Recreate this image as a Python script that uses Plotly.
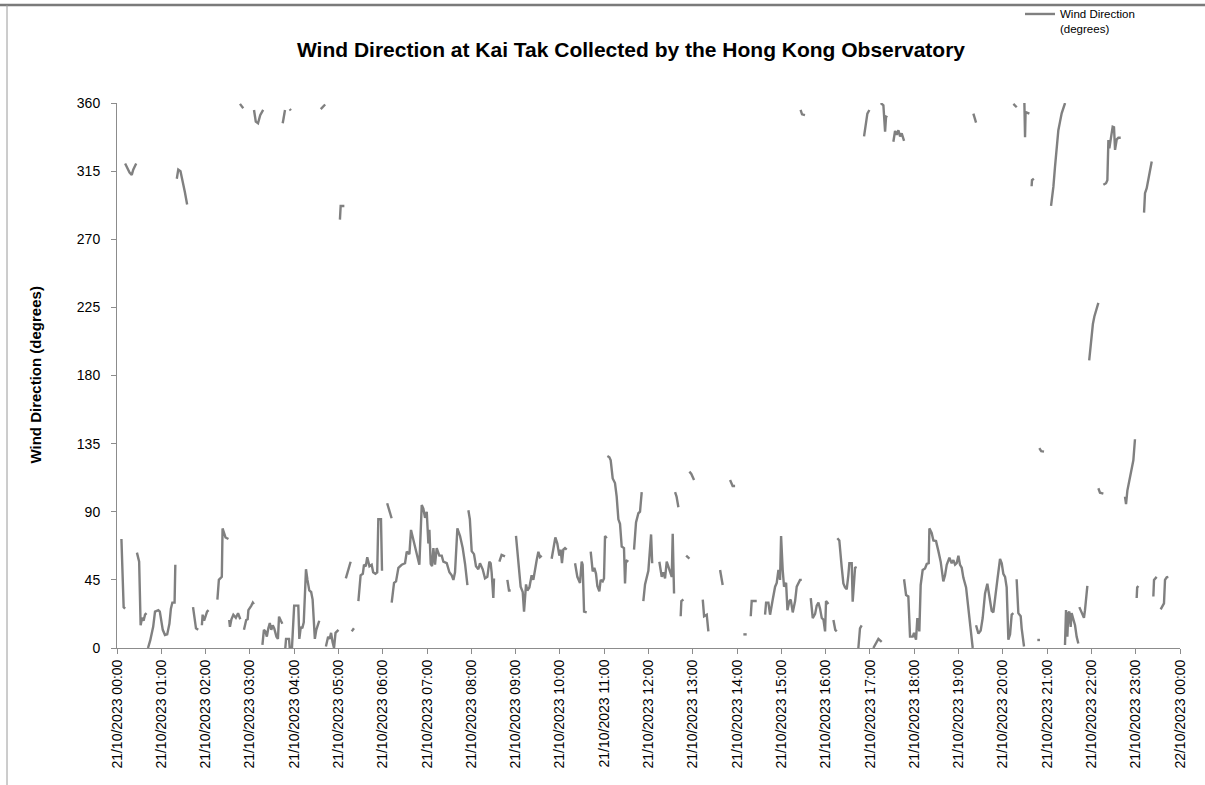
import plotly.graph_objects as go

# time in minutes after 21/10/2023 00:00 ; None = gap in the record
minute = [
    6, 7, 8, 9, 11, None,
    11, 14, 17, 20, 22, 26, None,
    27, 29, 30, 32, 34, 36, 38, 40, None,
    42, 45, 49, 51.5, 56, 58, 62, 65, 68, 71, 73, 75, 78, 79, None,
    81, 83, 86, 89, 92, 95, None,
    103, 107, 110, None,
    115, 116, 118, 120, 122, 124, None,
    136, 138, 142, 143, 145, 147, 151, None,
    152, 153, 155, 157.6, 161, 164, 167, None,
    166.6, 171, None,
    172, 175, 177, 178, 182, 184, 185.5, None,
    185.6, 188, 191, 194, 198, None,
    197, 199, 201, 203, 205, 207, 209, 211, 213, 216, 218, 219.5, 222, 224, None,
    224.5, 227.6, None,
    228, 229, 233, 234, 237, 240, 245.6, 247, 249, 251, 253, 256, 258, 260.5, 263, 265, 268, 270, 274, None,
    234, 235.5, None,
    276, 279, 282, None,
    283, 286, 288, 290, 292, 294, 296, 300, None,
    302, 303, 308, None,
    310, 313, 316.5, None,
    318, 321, None,
    327, 330, 333, 334.6, 337, 339, 342, 345, 347, 350, 352.5, 354, 357.6, 359, None,
    366, 369, 372, None,
    372.1, 375.3, 378, 381.2, 385.7, 390.2, 392.5, 396.1, 398.3, 401.5, 405.1, 409.6, 412.8, 415, 417.3,
    419.6, 421.8, 423.2, 425, 426.8, 428.6, 430.8, 433.1, 436.7, 439.9, 442.1, 446.7, 450.3, 453.4, 455.7,
    457.9, 461.1, 464.7, 468.3, 471.5, 474.7, None,
    476, 478, 480.5, 483.6, 486.3, 489.5, 491.7, 495.4, 498.5, 501.7, 504.4, 506.2, 507.5, 509.8, 510.7, None,
    518, 521, 525.6, None,
    528.8, 531, 533.3, None,
    540.5, 546.8, 549.6, 551.4, 554.1, 555.9, 558.6, 561.7, 564, 566.3, 568.5, 570.8, 573, 575.3, None,
    588.8, 591.1, 593.8, 596.5, 599.2, 601, 602.8, 604.6, 606.9, 609.2, None,
    620.5, 623.6, 627.2, 629.5, 630.8, 632.7, 636.3, None,
    641.7, 644.4, 646.6, 648.9, 650.7, 653.4, 655.2, 657.9, 659.7, 661.1, 663.4, None,
    664.3, 667, 668.8, 671.5, 674.6, 676.9, 679.2, 681.4, 683.7, 686.8, 688.2, 689.5, 692.7, None,
    700.4, 703.1, 706.3, 708.5, 710.8, None,
    713, 715.3, 719.8, 722, 723.5, 725, None,
    734.7, 737.9, 740.2, 742.4, 744.7, 748.3, 750.1, 751.5, 752.8, 754.6, None,
    756, 758, 760.5, None,
    763.6, 764.5, 767.3, None,
    771, 775.4, None,
    775.4, 778, 781.7, None,
    793.5, 795.3, 798.9, 801.1, None,
    817, 820.5, None,
    830.5, 834, 837.3, None,
    848.5, 853, None,
    858.5, 859.8, 866.6, None,
    877.9, 879.3, 882.4, 884.7, 888.3, 891.5, 893.7, 896, 898.2, 899.6, 901.8, 903.6, 906.4, 908.2, 910.9,
    912.7, 915.4, 918.6, 920.8, 923.1, 925.3, 927.6, None,
    926, 928, 932, None,
    939.8, 942.5, 945.7, 947.9, 950.2, 952.4, 954.7, 957, 959.2, 960.5, 963.7, None,
    970.5, 973, 975, None,
    975.8, 978.5, 981.7, 984, 986.2, 988.5, 990.7, 992.1, 995.3, 996.6, 998.4, 999.8, 1002, None,
    1004.3, 1006.5, 1008.8, None,
    1012, 1016.5, 1019.2, None,
    1024.6, 1029.1, 1031.4, 1035.9, None,
    1034.6, 1038.2, 1040.5, 1041.8, 1043.6, None,
    1051.7, 1054, 1056.3, 1058.5, 1060.8, 1063, 1066.2, None,
    1066.2, 1068.9, 1072, 1074.3, 1077.9, 1079.7, 1082.4, 1084.2, 1086.9, 1088.7, 1091.4, 1094.6, 1096.9,
    1099.6, 1100.5, 1103.6, 1105.9, 1109.5, 1112.7, 1115.8, 1119.4, 1121.7, 1124, 1127.6, 1130.7, 1133,
    1135.3, 1137.5, 1139.8, 1142, 1144.3, 1146.5, 1150.2, 1153.3, 1156.5, 1159.2, None,
    1160.1, 1163.7, None,
    1163.7, 1166.9, 1170, 1172.7, 1175.9, 1179, 1181.8, 1184.9, 1187.2, 1189.4, 1192.6, 1196.2, 1198.5,
    1200.7, 1203, 1205.2, 1207.5, 1209.8, 1212, 1214.3, None,
    1214.3, 1218.8, None,
    1218.7, 1221, 1224.2, 1225.5, 1228.7, None,
    1229.2, 1230.1, 1230.8, 1236, None,
    1239, 1239.5, 1242, None,
    1246.7, 1250.3, None,
    1249.4, 1252, 1255.8, None,
    1265.3, 1268.5, 1270.7, 1273, 1275.2, 1277.5, 1279.7, 1284.3, None,
    1284.2, 1285.6, 1287.4, 1288.7, 1290.1, 1291.9, 1293.2, 1295.5, 1297.8, 1300, 1302.3, None,
    1303.6, 1306, 1309.9, 1311.3, 1312.7, 1314.5, None,
    1317, 1319, 1320.4, 1322, 1324, 1327, 1329.4, None,
    1329.4, 1331.6, 1336.2, None,
    1336.2, 1339.8, 1341.6, 1343, 1344.3, 1346.1, 1348.8, 1350.6, 1352, 1354.3, 1356.5, 1359.7, None,
    1365.5, 1366.9, 1368.7, 1371.4, 1374.5, 1376.8, 1379, None,
    1381.3, 1382, 1383.6, None,
    1391.3, 1392.6, 1394.9, 1397.2, 1399.4, 1401.7, None,
    1403.9, 1404.8, 1408.4, None,
    1413.8, 1416.5, 1418.3, 1419.7, 1422, 1424.2,
]

# wind direction in degrees, aligned with `minute`
direction = [
    72, 55, 35, 27, 26, None,
    320, 317, 314, 312.5, 316, 320, None,
    63, 57, 57, 15, 20, 18, 22, 23, None,
    0, 5, 14, 24, 25, 24, 12, 8.6, 9, 16, 26, 30, 30, 55, None,
    310, 316, 315, 309, 301, 293, None,
    27, 13, 12, None,
    15, 22, 18, 22, 24, 25, None,
    32, 45, 47, 79, 76, 73, 72, None,
    18.5, 14, 19, 22, 20, 23, 19, None,
    359.4, 356.5, None,
    12, 18.5, 19, 25, 28, 30, 29, None,
    355.4, 347.7, 346.6, 352, 355.4, None,
    2, 12, 11, 7.5, 13, 16.5, 12, 15, 13, 7.5, 6, 20.7, 18, 16, None,
    346.6, 355.4, None,
    0, 6, 6, 0, 0, 28, 28, 6, 14, 13, 17, 52, 45, 38, 37, 32, 6, 12, 18, None,
    356, 355, None,
    356, 357.5, 359, None,
    1, 7.5, 6, 10, 4, 0, 10, 12, None,
    283, 292, 292, None,
    46, 52, 57, None,
    11, 13, None,
    31, 48, 49, 55, 54, 60, 54, 55, 50, 49, 50, 85, 85, 51, None,
    95.6, 91, 85.7, None,
    30, 43, 44, 53, 55, 56, 63.6, 62, 78, 71, 65, 55, 94.5, 92, 86,
    90, 69, 78, 55.5, 54, 66, 55, 66, 61, 61, 57, 56, 50, 48, 45,
    50, 79, 74, 66, 55.5, 41.6, None,
    91, 85, 64, 62, 54, 52, 56, 52, 46, 47, 57, 56, 50, 33, 46, None,
    57, 61.5, 60.5, None,
    45, 38, 38, None,
    74, 40.5, 37, 24, 42, 38, 40, 48, 45, 53, 58, 63.6, 60, 61, None,
    59, 66, 73, 69, 61, 65, 56, 65, 66, 65, None,
    56, 47, 43, 57, 55, 24, 23.5, None,
    63.6, 50.6, 53, 49, 41, 37.4, 45, 44, 46, 74, 72.5, None,
    126.8, 126, 124, 112, 109, 100, 85, 82, 67, 66, 42.7, 58, 57, None,
    65, 83, 89, 90, 103, None,
    31, 42, 51, 68, 75, 56, None,
    57, 47, 50, 46, 57, 51, 48, 47, 75.5, 36, None,
    103, 100, 93, None,
    21, 31, 32, None,
    61, 59, None,
    116.5, 115, 111, None,
    32, 21, 22, 11, None,
    51.5, 41.6, None,
    111, 107, 107, None,
    9, 9, None,
    21, 31, 31, None,
    22, 30, 30, 22, 32, 40.5, 43, 51.5, 45, 74, 51.5, 40.5, 43, 25, 31,
    32, 23.5, 31, 40.5, 43, 45, 45, None,
    355.4, 352.5, 352, None,
    33, 19.8, 22.5, 28, 30, 26, 19.8, 18.7, 11, 31, 29, None,
    18.5, 12, 11, None,
    72.5, 71, 53.5, 42.7, 40, 38.8, 48, 56, 56, 30.6, 43, 53, 53.5, None,
    0, 13, 15, None,
    338, 353, 355.4, None,
    0, 4, 6, 4, None,
    360, 358.5, 341, 351, 350.5, None,
    334.4, 341.5, 339, 342, 338, 340, 335, None,
    45.4, 35, 34, 7.5, 7.5, 10, 5.5, 19.8, 11, 41.5, 51.5, 52.5, 55.5,
    56, 79, 76, 71, 70.6, 64, 57, 44, 48, 55, 59.6, 56, 58,
    55, 56, 61, 55, 53, 46.5, 40, 25, 12, 0, None,
    353, 347, None,
    15, 9.5, 11.5, 19.8, 36, 42.5, 34, 24.5, 23.5, 31, 45, 58.8, 56,
    49, 47, 40, 5.5, 9, 22, 23, None,
    359.4, 357.2, None,
    45.4, 23, 21, 13, 1, None,
    360, 337.4, 354, 353, None,
    305, 309, 310, None,
    5.3, 5.3, None,
    132, 130, 129.7, None,
    292, 304.7, 318, 329, 342, 347.7, 353.2, 360, None,
    2, 25, 7.5, 23, 24, 14, 23, 18.5, 15, 7.5, 3, None,
    27, 24, 20, 25, 34, 41, None,
    190, 200, 205, 214, 219, 224, 228, None,
    105.5, 102.6, 102, None,
    306, 307, 309, 335.6, 330, 337, 344.4, 344, 329, 336, 337, 337, None,
    100, 95, 104, 111, 117.6, 124, 137.9, None,
    33, 40, 41, None,
    287.6, 300.4, 303.7, 309.2, 315.8, 321.3, None,
    34, 45, 47, None,
    25.5, 28.4, 29.5, 45, 46.7, 47,
]

assert len(minute) == len(direction), (len(minute), len(direction))

tick_minutes = list(range(0, 1441, 60))
tick_labels = [f"21/10/2023 {h:02d}:00" for h in range(24)] + ["22/10/2023 00:00"]
y_ticks = [0, 45, 90, 135, 180, 225, 270, 315, 360]

fig = go.Figure()
fig.add_trace(go.Scatter(
    x=minute, y=direction, mode="lines", connectgaps=False,
    line=dict(color="#808080", width=2.4),
    name="Wind Direction<br>(degrees)",
))

axis_col = "#8c8c8c"
fig.update_layout(
    width=1205, height=785,
    margin=dict(l=117, r=25, t=103, b=137, autoexpand=False),
    paper_bgcolor="white", plot_bgcolor="white",
    font=dict(family="Liberation Sans, Arial, sans-serif", size=14, color="black"),
    title=dict(
        text="<b>Wind Direction at Kai Tak Collected by the Hong Kong Observatory</b>",
        x=631 / 1205, xanchor="center", xref="container",
        y=1 - 50 / 785, yanchor="middle", yref="container",
        font=dict(size=21, color="black"),
    ),
    showlegend=True,
    legend=dict(
        x=(1020 - 117) / 1063, xanchor="left",
        y=(648 + 0) / 545, yanchor="top",
        font=dict(size=11.5, color="black"),
        bgcolor="rgba(0,0,0,0)", valign="top",
    ),
    xaxis=dict(
        range=[0, 1440], tickmode="array", tickvals=tick_minutes, ticktext=tick_labels,
        tickangle=-90, showline=True, linecolor=axis_col, linewidth=1,
        ticks="outside", ticklen=5, tickcolor=axis_col,
        showgrid=False, zeroline=False, tickfont=dict(size=14), automargin=False,
    ),
    yaxis=dict(
        range=[0, 360], tickmode="array", tickvals=y_ticks,
        showline=True, linecolor=axis_col, linewidth=1,
        ticks="outside", ticklen=5, tickcolor=axis_col, ticklabelstandoff=8,
        showgrid=False, zeroline=False, tickfont=dict(size=14), automargin=False,
    ),
    annotations=[dict(
        text="<b>Wind Direction (degrees)</b>", textangle=-90,
        xref="paper", yref="paper", x=(35 - 117) / 1063, y=0.5,
        xanchor="center", yanchor="middle", showarrow=False,
        font=dict(size=15, color="black"),
    )],
    shapes=[
        dict(type="line", xref="paper", yref="paper",
             x0=(0 - 117) / 1063, x1=(1205 - 117) / 1063,
             y0=(648 - 5) / 545, y1=(648 - 5) / 545,
             line=dict(color="#7a7a7a", width=2.5)),
        dict(type="line", xref="paper", yref="paper",
             x0=(7 - 117) / 1063, x1=(7 - 117) / 1063,
             y0=(648 - 5) / 545, y1=(648 - 785) / 545,
             line=dict(color="#9a9a9a", width=1)),
    ],
)

fig.write_html("out.html", config={"displayModeBar": False},
               post_script="document.body.style.margin='0px';")
